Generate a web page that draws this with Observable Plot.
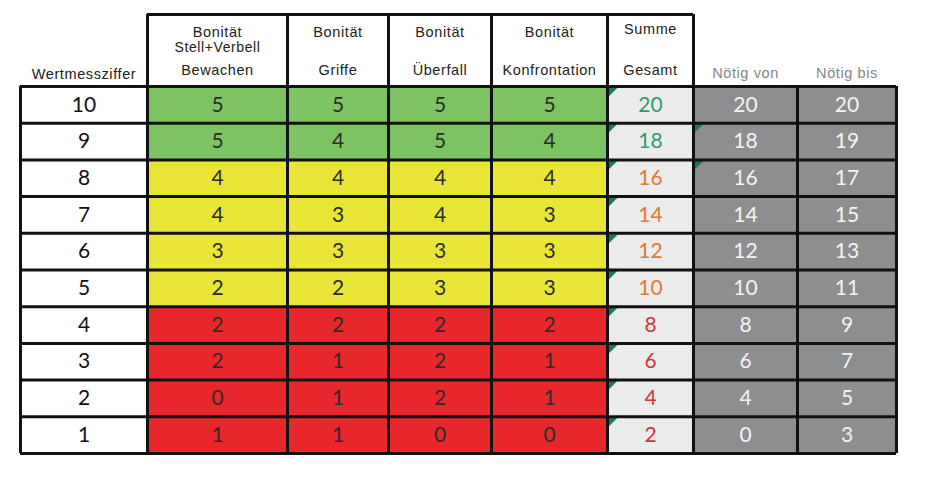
<!DOCTYPE html>
<html>
<head>
<meta charset="utf-8">
<script src="https://cdn.jsdelivr.net/npm/d3@7"></script>
<script src="https://cdn.jsdelivr.net/npm/@observablehq/plot@0.6"></script>
<style>
  html, body { margin: 0; padding: 0; background: #ffffff; }
  #chart svg { display: block; }
</style>
</head>
<body>
<div id="chart"></div>
<script>
// ---- data ----
const rowLabels     = [10, 9, 8, 7, 6, 5, 4, 3, 2, 1];
const bewachen      = [5, 5, 4, 4, 3, 2, 2, 2, 0, 1];
const griffe        = [5, 4, 4, 3, 3, 2, 2, 1, 1, 1];
const ueberfall     = [5, 5, 4, 4, 3, 3, 2, 2, 2, 0];
const konfrontation = [5, 4, 4, 3, 3, 3, 2, 1, 1, 0];
const summe         = [20, 18, 16, 14, 12, 10, 8, 6, 4, 2];
const noetigVon     = [20, 18, 16, 14, 12, 10, 8, 6, 4, 0];
const noetigBis     = [20, 19, 17, 15, 13, 11, 9, 7, 5, 3];
const bands         = ["gut", "gut", "mittel", "mittel", "mittel", "mittel", "schlecht", "schlecht", "schlecht", "schlecht"];
const markedVonRows = [9, 8];
const headerBoxed   = ["Bonität|Stell+Verbell|Bewachen", "Bonität||Griffe", "Bonität||Überfall", "Bonität||Konfrontation", "Summe||Gesamt"];
const headerPlain   = ["Wertmessziffer", "Nötig von", "Nötig bis"];

// ---- layout / styles ----
const colWidths = [127, 140, 101, 103, 116, 86, 104, 99];
const edges = [0];
colWidths.forEach(w => edges.push(edges[edges.length - 1] + w));
const headerRows = 1.96; // header height in row units
const bandFill = {gut: "#7dc363", mittel: "#e9e536", schlecht: "#e8272c"};
const sumColor = {gut: "#2f9d6b", mittel: "#dc7a31", schlecht: "#d5323d"};
const grayFill = "#8d8e8f";
const sumFill = "#ebebeb";

const columns = [rowLabels, bewachen, griffe, ueberfall, konfrontation, summe, noetigVon, noetigBis];
const cells = [];
rowLabels.forEach((r, i) => {
  columns.forEach((col, c) => {
    let fill, color;
    if (c === 0) { fill = "#ffffff"; color = "#111111"; }
    else if (c <= 4) { fill = bandFill[bands[i]]; color = "#2c2c2c"; }
    else if (c === 5) { fill = sumFill; color = sumColor[bands[i]]; }
    else { fill = grayFill; color = "#f4f4f4"; }
    cells.push({x1: edges[c], x2: edges[c + 1], xm: (edges[c] + edges[c + 1]) / 2,
                y1: i, y2: i + 1, ym: i + 0.5, text: String(col[i]), fill, color});
  });
});

const markers = [];
rowLabels.forEach((r, i) => {
  markers.push({x: edges[5], y: i});
  if (markedVonRows.includes(r)) markers.push({x: edges[6], y: i});
});

const headerTexts = [];
headerBoxed.forEach((h, k) => {
  const parts = h.split("|");
  const c = k + 1;
  const xm = (edges[c] + edges[c + 1]) / 2;
  const topY = k === 4 ? -1.55 : -1.47;
  headerTexts.push({x: xm, y: topY, text: parts[0], size: 14.5});
  if (parts[1]) headerTexts.push({x: xm, y: -1.06, text: parts[1], size: 14});
  headerTexts.push({x: xm, y: -0.43, text: parts[2], size: 14.5});
});
const plainTexts = [
  {x: (edges[0] + edges[1]) / 2, y: -0.33, text: headerPlain[0], color: "#222222"},
  {x: (edges[6] + edges[7]) / 2, y: -0.35, text: headerPlain[1], color: "#858585"},
  {x: (edges[7] + edges[8]) / 2, y: -0.35, text: headerPlain[2], color: "#858585"}
];

// grid lines
const hLines = d3.range(0, rowLabels.length + 1).map(i => ({y: i, x1: edges[0], x2: edges[8]}));
const vLines = edges.map((e, c) => ({x: e, y1: 0, y2: rowLabels.length}));
const headerV = edges.slice(1, 7).map(e => ({x: e, y1: -headerRows, y2: 0}));
const headerTop = [{y: -headerRows, x1: edges[1], x2: edges[6]}];

const total = edges[edges.length - 1];
const plot = Plot.plot({
  width: 950,
  height: 478,
  margin: 0,
  x: {domain: [0, total], range: [20, 20 + total], axis: null},
  y: {domain: [0, 10], range: [86, 453], axis: null},
  color: {type: "identity"},
  style: {background: "#ffffff"},
  marks: [
    Plot.rect(cells, {x1: "x1", x2: "x2", y1: "y1", y2: "y2", fill: "fill"}),
    Plot.text(markers, {x: "x", y: "y", text: () => "◤", fill: "#1f7a46", fontSize: 13,
      textAnchor: "start", lineAnchor: "top", dx: 0, dy: 0, fontFamily: "DejaVu Sans"}),
    Plot.text(cells, {x: "xm", y: "ym", text: "text", fill: "color", fontSize: 21,
      fontFamily: "Lato, 'Open Sans', sans-serif"}),
    Plot.ruleY(hLines, {y: "y", x1: "x1", x2: "x2", stroke: "#111111", strokeWidth: 3}),
    Plot.ruleX(vLines, {x: "x", y1: "y1", y2: "y2", stroke: "#111111", strokeWidth: 3}),
    Plot.ruleX(headerV, {x: "x", y1: "y1", y2: "y2", stroke: "#111111", strokeWidth: 3}),
    Plot.ruleY(headerTop, {y: "y", x1: "x1", x2: "x2", stroke: "#111111", strokeWidth: 3}),
    Plot.text(headerTexts, {x: "x", y: "y", text: "text", fontSize: "size", fill: "#222222",
      fontFamily: "'Liberation Sans', Arial, sans-serif"}),
    Plot.text(plainTexts, {x: "x", y: "y", text: "text", fill: "color", fontSize: 14.5,
      fontFamily: "'Liberation Sans', Arial, sans-serif"})
  ]
});
d3.select(plot).selectAll("g[font-family*='Liberation']").style("letter-spacing", "0.6px");
document.getElementById("chart").appendChild(plot);
</script>
</body>
</html>
